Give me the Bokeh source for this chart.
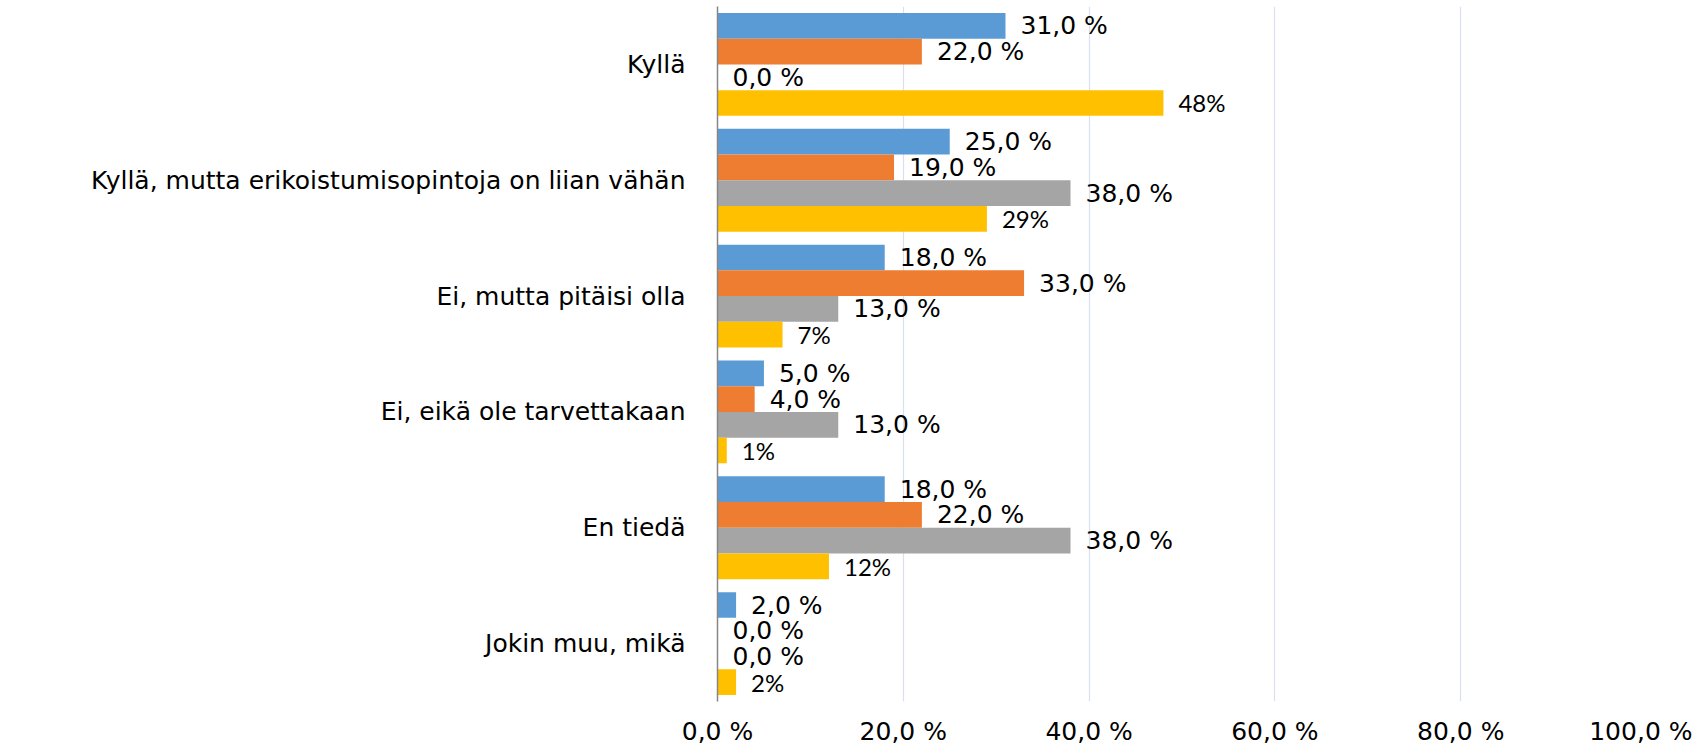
from bokeh.plotting import figure
from bokeh.models import FactorRange, FixedTicker, ColumnDataSource, Range1d
from bokeh.transform import dodge
from bokeh.embed import file_html
from bokeh.resources import INLINE
from bokeh.core.properties import value

categories = [
    "Kyllä",
    "Kyllä, mutta erikoistumisopintoja on liian vähän",
    "Ei, mutta pitäisi olla",
    "Ei, eikä ole tarvettakaan",
    "En tiedä",
    "Jokin muu, mikä",
]
series_blue = [31, 25, 18, 5, 18, 2]
series_orange = [22, 19, 33, 4, 22, 0]
series_gray = [0, 38, 13, 13, 38, 0]
series_yellow = [48, 29, 7, 1, 12, 2]
x_ticks = [0, 20, 40, 60, 80, 100]
x_tick_labels = ["0,0 %", "20,0 %", "40,0 %", "60,0 %", "80,0 %", "100,0 %"]


def fmt_decimal(v):
    return f"{v:.1f} %".replace(".", ",")


def fmt_int(v):
    return f"{v}%"


MAIN_FONT = "DejaVu Sans"

p = figure(
    frame_width=929, frame_height=695,
    x_range=Range1d(0, 100),
    y_range=FactorRange(factors=list(reversed(categories))),
    output_backend="svg", toolbar_location=None,
    min_border_left=717, min_border_right=46, min_border_top=6, min_border_bottom=30,
)
p.outline_line_color = None
p.background_fill_color = "white"

series = [
    (series_blue, "#5B9BD5", 0.333, fmt_decimal, value(MAIN_FONT), "25px"),
    (series_orange, "#EE7D31", 0.111, fmt_decimal, value(MAIN_FONT), "25px"),
    (series_gray, "#A5A5A5", -0.111, fmt_decimal, value(MAIN_FONT), "25px"),
    (series_yellow, "#FFC000", -0.333, fmt_int, value("Lato"), "24px"),
]

for vals, color, off, fmt, font, fsize in series:
    src = ColumnDataSource(dict(cat=categories, val=vals, label=[fmt(v) for v in vals]))
    p.hbar(y=dodge("cat", off, range=p.y_range), left=0, right="val", height=0.222,
           fill_color=color, line_color=None, source=src)
    p.text(x="val", y=dodge("cat", off, range=p.y_range), text="label", source=src,
           x_offset=15, text_align="left", text_baseline="middle",
           text_font=font, text_font_size=fsize, text_color="#000000")

# axes
p.xaxis.ticker = FixedTicker(ticks=x_ticks)
p.xaxis.major_label_overrides = {t: l for t, l in zip(x_ticks, x_tick_labels)}
p.xaxis.axis_line_color = None
p.xaxis.major_tick_line_color = None
p.xaxis.minor_tick_line_color = None
p.xaxis.major_label_text_font = MAIN_FONT
p.xaxis.major_label_text_font_size = "25px"
p.xaxis.major_label_text_color = "#000000"
p.xaxis.major_label_standoff = 9

p.yaxis.axis_line_color = "#868686"
p.yaxis.axis_line_width = 1.5
p.yaxis.major_tick_line_color = None
p.yaxis.minor_tick_line_color = None
p.yaxis.major_label_text_font = MAIN_FONT
p.yaxis.major_label_text_font_size = "25px"
p.yaxis.major_label_text_color = "#000000"
p.yaxis.major_label_standoff = 26

p.ygrid.grid_line_color = None
p.xgrid.grid_line_color = "#D9E1F0"
p.xgrid.grid_line_width = 1.2

open("out.html", "w").write(file_html(p, INLINE))
